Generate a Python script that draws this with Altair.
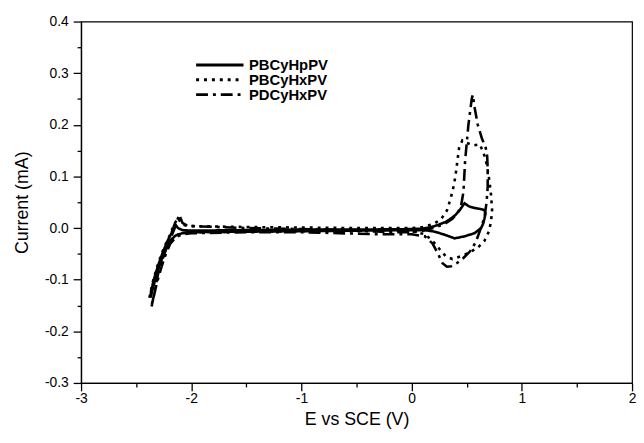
import altair as alt
import pandas as pd

series_names = ["PBCyHpPV", "PBCyHxPV", "PDCyHxPV"]

solid_x = [-2.37, -2.34, -2.30, -2.26, -2.22, -2.18, -2.15, -2.12, -2.08, -2.0, -1.5, -1.0, -0.5, 0.0, 0.1, 0.18, 0.24, 0.31, 0.36, 0.40, 0.43, 0.46, 0.48, 0.52, 0.57, 0.62, 0.66, 0.67, 0.66, 0.65, 0.63, 0.57, 0.48, 0.39, 0.30, 0.21, 0.12, 0.0, -0.5, -1.0, -1.5, -2.0, -2.08, -2.14, -2.18, -2.22, -2.26, -2.30, -2.34, -2.37]
solid_y = [-0.13, -0.10, -0.072, -0.048, -0.027, -0.010, 0.008, 0.0, -0.004, -0.005, -0.004, -0.003, -0.003, -0.002, -0.001, 0.002, 0.006, 0.012, 0.019, 0.026, 0.033, 0.042, 0.048, 0.042, 0.039, 0.037, 0.035, 0.028, 0.018, 0.009, 0.0, -0.010, -0.016, -0.020, -0.013, -0.007, -0.004, -0.004, -0.005, -0.006, -0.007, -0.008, -0.010, -0.014, -0.022, -0.035, -0.055, -0.080, -0.110, -0.135]

dot_x = [-2.38, -2.35, -2.31, -2.27, -2.23, -2.19, -2.16, -2.12, -2.09, -2.04, -1.5, -1.0, -0.5, 0.0, 0.1, 0.2, 0.27, 0.32, 0.355, 0.385, 0.40, 0.415, 0.43, 0.46, 0.50, 0.56, 0.62, 0.67, 0.70, 0.72, 0.73, 0.72, 0.70, 0.66, 0.60, 0.52, 0.44, 0.37, 0.31, 0.25, 0.19, 0.12, 0.0, -0.5, -1.0, -1.5, -2.0, -2.08, -2.14, -2.19, -2.23, -2.27, -2.31, -2.35, -2.38]
dot_y = [-0.135, -0.105, -0.075, -0.05, -0.03, -0.012, 0.005, 0.02, 0.008, 0.004, 0.002, 0.001, 0.0, 0.0, 0.002, 0.008, 0.018, 0.034, 0.058, 0.085, 0.105, 0.13, 0.155, 0.170, 0.165, 0.160, 0.162, 0.135, 0.10, 0.065, 0.035, 0.012, -0.007, -0.025, -0.038, -0.048, -0.055, -0.060, -0.055, -0.040, -0.025, -0.012, -0.006, -0.006, -0.006, -0.007, -0.008, -0.01, -0.015, -0.025, -0.04, -0.06, -0.085, -0.11, -0.135]

dd_x = [-2.36, -2.33, -2.30, -2.26, -2.22, -2.18, -2.15, -2.11, -2.08, -2.03, -1.5, -1.0, -0.5, -0.2, 0.0, 0.1, 0.2, 0.3, 0.37, 0.42, 0.45, 0.47, 0.485, 0.50, 0.515, 0.53, 0.545, 0.555, 0.57, 0.60, 0.64, 0.67, 0.685, 0.69, 0.69, 0.68, 0.66, 0.62, 0.58, 0.53, 0.47, 0.41, 0.36, 0.32, 0.28, 0.24, 0.19, 0.12, 0.0, -0.3, -1.0, -1.5, -2.0, -2.08, -2.14, -2.19, -2.23, -2.27, -2.31, -2.36]
dd_y = [-0.152, -0.12, -0.088, -0.06, -0.036, -0.016, 0.0, 0.026, 0.01, 0.004, 0.0, -0.002, -0.004, -0.008, -0.008, -0.005, 0.0, 0.008, 0.018, 0.03, 0.045, 0.07, 0.13, 0.165, 0.20, 0.225, 0.25, 0.258, 0.235, 0.20, 0.172, 0.158, 0.14, 0.115, 0.08, 0.05, 0.02, -0.005, -0.028, -0.045, -0.058, -0.068, -0.074, -0.075, -0.068, -0.05, -0.03, -0.016, -0.012, -0.012, -0.008, -0.008, -0.01, -0.012, -0.018, -0.03, -0.05, -0.075, -0.105, -0.15]

x_major = [-3, -2, -1, 0, 1, 2]
x_minor = [-2.5, -1.5, -0.5, 0.5, 1.5]
y_major = [-0.3, -0.2, -0.1, 0.0, 0.1, 0.2, 0.3, 0.4]
y_minor = [-0.25, -0.15, -0.05, 0.05, 0.15, 0.25, 0.35]

rows = []
for name, xs, ys in zip(series_names, [solid_x, dot_x, dd_x], [solid_y, dot_y, dd_y]):
    for i, (a, b) in enumerate(zip(xs, ys)):
        rows.append({"series": name, "idx": i, "E": a, "I": b})
df = pd.DataFrame(rows)

FONT = "Liberation Sans"
LABEL_SIZE = 14
TITLE_SIZE = 18
xscale = alt.Scale(domain=[-3, 2], nice=False, zero=False)
yscale = alt.Scale(domain=[-0.3, 0.4], nice=False, zero=False)

x_axis = alt.Axis(
    values=x_major,
    title="E vs SCE (V)",
    labelExpr="replace(format(datum.value, 'd'), '\u2212', '-')",
    tickSize=8,
    labelPadding=1,
    labelFont=FONT,
    labelFontSize=LABEL_SIZE,
    titleFont=FONT,
    titleFontSize=TITLE_SIZE,
    titleFontWeight="normal",
    labelOverlap=False,
    labelFlush=False,
    grid=False,
    titleY=42,
    titleBaseline="alphabetic",
)
y_axis = alt.Axis(
    values=y_major,
    title="Current (mA)",
    labelExpr="replace(format(datum.value, '.1f'), '\u2212', '-')",
    tickSize=8,
    labelPadding=5,
    labelFont=FONT,
    labelFontSize=LABEL_SIZE,
    titleFont=FONT,
    titleFontSize=TITLE_SIZE,
    titleFontWeight="normal",
    labelOverlap=False,
    labelFlush=False,
    grid=False,
    titleX=-54,
    titleBaseline="alphabetic",
)

lines = alt.Chart(df).mark_line(strokeWidth=2.6, color="black", strokeCap="butt").encode(
    x=alt.X("E:Q", scale=xscale, axis=x_axis),
    y=alt.Y("I:Q", scale=yscale, axis=y_axis),
    strokeDash=alt.StrokeDash(
        "series:N",
        scale=alt.Scale(domain=series_names, range=[[1, 0], [3, 5], [12, 5, 3, 5]]),
        legend=alt.Legend(
            title=None,
            orient="none",
            legendX=115,
            legendY=37,
            symbolType="stroke",
            symbolSize=2304,
            symbolStrokeWidth=3,
            symbolStrokeColor="black",
            labelFont=FONT,
            labelFontSize=15,
            labelFontWeight="bold",
            labelColor="black",
            clipHeight=14,
            rowPadding=0,
            padding=0,
            labelOffset=4,
        ),
    ),
    detail="series:N",
    order="idx:Q",
)

minor = alt.Chart(df).mark_point(opacity=0).encode(
    x=alt.X("E:Q", scale=xscale, axis=alt.Axis(values=x_minor, orient="bottom", labels=False, title=None, tickSize=4, domain=False, grid=False)),
    y=alt.Y("I:Q", scale=yscale, axis=alt.Axis(values=y_minor, orient="left", labels=False, title=None, tickSize=4, domain=False, grid=False)),
)

chart = alt.layer(lines, minor).resolve_axis(x="independent", y="independent").properties(
    width=558,
    height=366,
    autosize=alt.AutoSizeParams(type="none"),
    padding={"left": 74, "top": 11, "right": 4, "bottom": 50},
).configure_view(
    stroke="black", strokeWidth=1.2
).configure_axis(
    domainColor="black",
    domainWidth=1.3,
    tickColor="black",
    tickWidth=1.3,
    labelColor="black",
    titleColor="black",
)

chart.save("out.html", embed_options={"renderer": "svg", "actions": False})
